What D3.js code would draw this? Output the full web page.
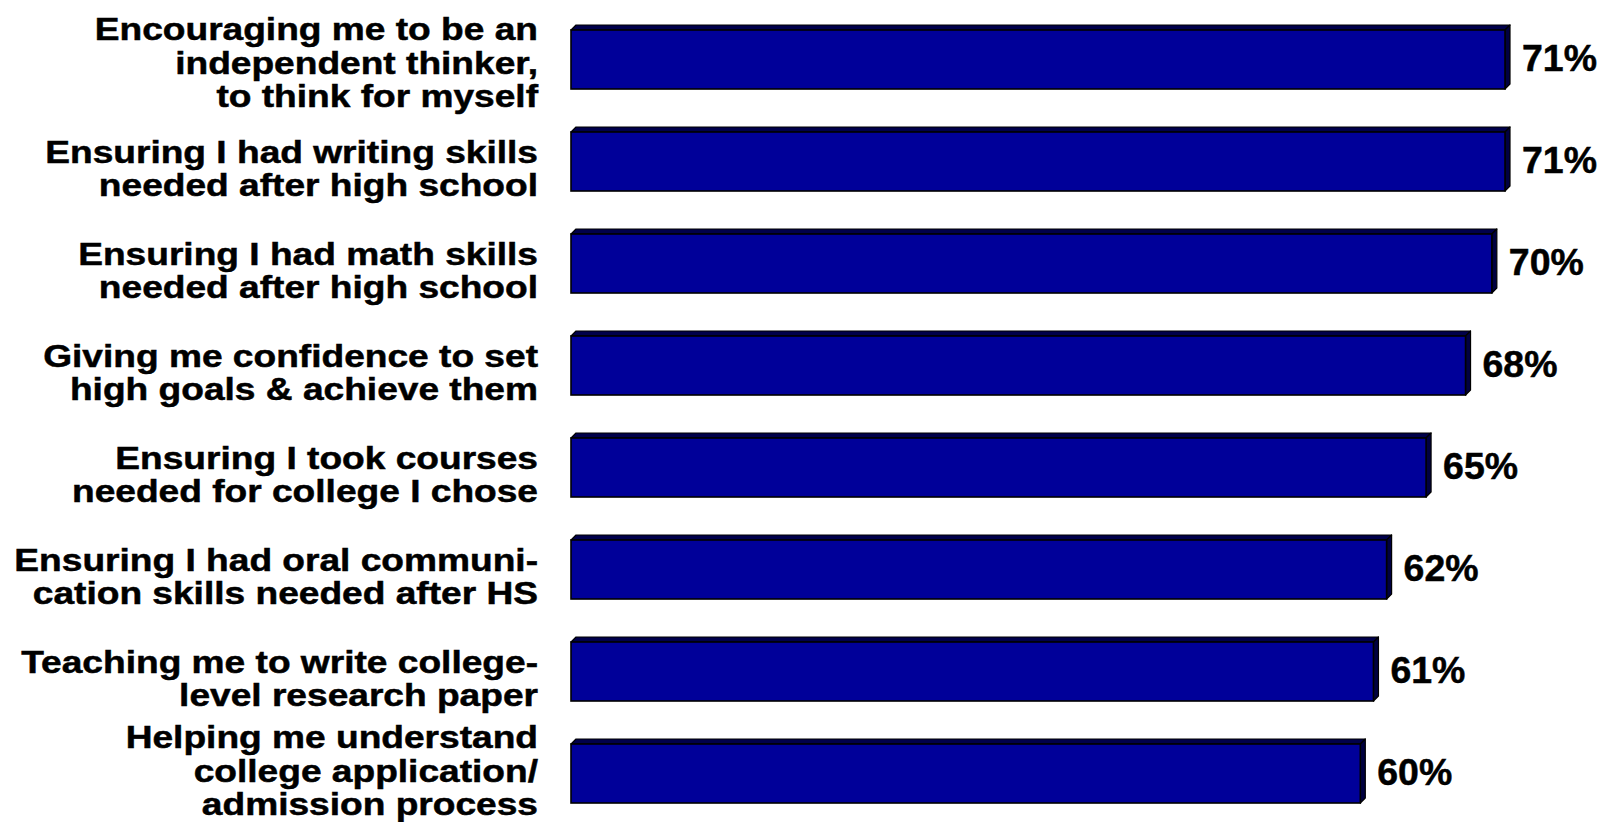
<!DOCTYPE html>
<html>
<head>
<meta charset="utf-8">
<script src="https://cdn.jsdelivr.net/npm/d3@7"></script>
<style>
  html, body { margin: 0; padding: 0; background: #ffffff; }
  svg { display: block; }
  text { font-family: "Liberation Sans", Arial, Helvetica, sans-serif; font-weight: bold; fill: #000; stroke: #000; stroke-width: 0.5px; }
</style>
</head>
<body>
<svg id="chart" width="1605" height="822"></svg>
<script>
// Category labels, one entry per line of text
const categories = [
  ["Encouraging me to be an", "independent thinker,", "to think for myself"],
  ["Ensuring I had writing skills", "needed after high school"],
  ["Ensuring I had math skills", "needed after high school"],
  ["Giving me confidence to set", "high goals & achieve them"],
  ["Ensuring I took courses", "needed for college I chose"],
  ["Ensuring I had oral communi-", "cation skills needed after HS"],
  ["Teaching me to write college-", "level research paper"],
  ["Helping me understand", "college application/", "admission process"]
];

// Percent of respondents
const values = [71, 71, 70, 68, 65, 62, 61, 60];

const keys = categories.map((c, i) => i);

const svg = d3.select("#chart");
const W = 1605, H = 822;

svg.append("rect").attr("width", W).attr("height", H).attr("fill", "#ffffff");

const x = d3.scaleLinear().domain([0, 100]).range([571, 1886.5]);
const y = d3.scaleBand().domain(keys).range([30, 803]).paddingInner(0.4216).paddingOuter(0);

const depth = 5;
const front = "#000099";
const topFace = "#00004a";
const sideFace = "#000040";

const g = svg.append("g");

const bars = g.selectAll("g.bar").data(keys).join("g").attr("class", "bar");

// top face of each 3D bar
bars.append("path")
  .attr("d", i => {
    const x0 = x(0), x1 = x(values[i]), y0 = y(i);
    return `M${x0},${y0}L${x0 + depth},${y0 - depth}L${x1 + depth},${y0 - depth}L${x1},${y0}Z`;
  })
  .attr("fill", topFace).attr("stroke", "#000").attr("stroke-width", 1.2).attr("stroke-linejoin", "round");

// right side face
bars.append("path")
  .attr("d", i => {
    const x1 = x(values[i]), y0 = y(i), y1 = y(i) + y.bandwidth();
    return `M${x1},${y0}L${x1 + depth},${y0 - depth}L${x1 + depth},${y1 - depth}L${x1},${y1}Z`;
  })
  .attr("fill", sideFace).attr("stroke", "#000").attr("stroke-width", 1.2).attr("stroke-linejoin", "round");

// front face
bars.append("rect")
  .attr("x", x(0))
  .attr("y", i => y(i))
  .attr("width", i => x(values[i]) - x(0))
  .attr("height", y.bandwidth())
  .attr("fill", front).attr("stroke", "#000").attr("stroke-width", 1.6);

// value labels (slightly widened, like the rest of the chart's type)
g.selectAll("text.value").data(keys).join("text")
  .attr("class", "value")
  .attr("transform", i => `translate(${x(values[i]) + depth + 12},${y(i) + y.bandwidth() / 2 - 1}) scale(1.04,1)`)
  .attr("dominant-baseline", "central")
  .attr("font-size", 36)
  .text(i => values[i] + "%");

// category labels, right aligned against the bars, in a wide bold face
const lineH = 33.5;
const stretch = 1.16;
const lastLineMax = 804;
const labels = g.selectAll("text.cat").data(keys).join("text")
  .attr("class", "cat")
  .attr("text-anchor", "end")
  .attr("font-size", 32)
  .attr("transform", i => {
    const n = categories[i].length;
    const shift = n === 3 ? 3 : 7;
    let cy = y(i) + y.bandwidth() / 2 + shift - (n - 1) * lineH / 2;
    cy = Math.min(cy, lastLineMax - (n - 1) * lineH);
    return `translate(538,${cy}) scale(${stretch},1)`;
  });

labels.selectAll("tspan").data(i => categories[i]).join("tspan")
  .attr("x", 0)
  .attr("y", (d, j) => j * lineH)
  .attr("dominant-baseline", "central")
  .text(d => d);
</script>
</body>
</html>
